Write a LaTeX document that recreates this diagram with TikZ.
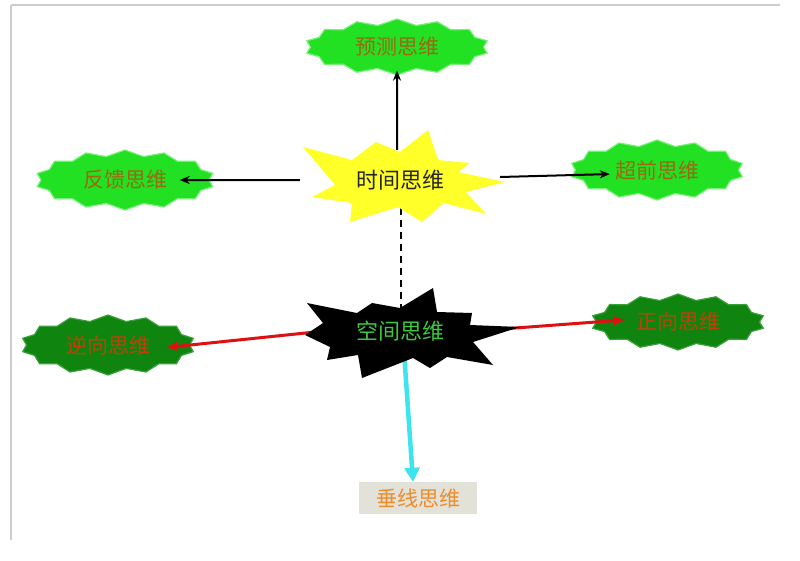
\documentclass[tikz,border=0pt]{standalone}
\usepackage{fontspec}
\setmainfont{Noto Sans CJK SC}
\usetikzlibrary{shapes.symbols,arrows.meta,calc}
\pgfdeclarelayer{bg}
\pgfdeclarelayer{arr}
\pgfsetlayers{bg,arr,main}
\definecolor{lg}{HTML}{22E022}
\definecolor{lgb}{HTML}{77F077}
\definecolor{dg}{HTML}{0F850F}
\definecolor{dgb}{HTML}{3AA03A}
\definecolor{txtbrown}{HTML}{9A6A12}
\definecolor{txtred}{HTML}{C0400A}
\definecolor{yel}{HTML}{FFFF2A}
\definecolor{spgreen}{HTML}{3CC83C}
\definecolor{cyanline}{HTML}{3DE3EE}
\definecolor{boxgray}{HTML}{E2E2D8}
\definecolor{boxtxt}{HTML}{EE8C2C}
\definecolor{framegray}{HTML}{CCCCCC}
\definecolor{redline}{HTML}{DD1111}
\tikzset{
  burst/.style={starburst, starburst points=14, starburst point height=6pt,
    random starburst=0, line width=1.2pt, inner sep=0pt,
    font=\fontsize{21}{24}\selectfont},
  gburst/.style={burst, fill=lg, draw=lgb, text=txtbrown},
  dburst/.style={burst, fill=dg, draw=dgb, text=txtred},
  boxs/.style={rectangle, fill=boxgray, text=boxtxt, minimum width=118pt,
    minimum height=32pt, inner sep=0pt, font=\fontsize{21}{24}\selectfont},
  ctxt/.style={inner sep=0pt, font=\fontsize{22}{26}\selectfont},
  blk/.style={draw=black, line width=2pt, -{Stealth[length=10pt,width=8pt]}},
  rd/.style={draw=redline, line width=3pt, -{Latex[length=12pt,width=10pt]}},
  cy/.style={draw=cyanline, line width=4.5pt, -{Triangle[length=14pt,width=15pt]}},
  framel/.style={draw=framegray, line width=1.5pt}
}
\begin{document}
\begin{tikzpicture}[x=1pt,y=-1pt]
\useasboundingbox (0,0) rectangle (800,560);
\begin{pgfonlayer}{bg}
  \draw[framel] (11,5) -- (780,5);
  \draw[framel] (11,5) -- (11,540);
  \node[gburst, minimum width=185pt, minimum height=56pt] (yc) at (397,47) {预测思维};
  \node[gburst, minimum width=180pt, minimum height=60pt] (fk) at (125,180) {反馈思维};
  \node[gburst, minimum width=175pt, minimum height=60pt] (cq) at (657,170) {超前思维};
  \node[dburst, minimum width=175pt, minimum height=60pt] (nx) at (108,345) {逆向思维};
  \node[dburst, minimum width=175pt, minimum height=56pt] (zx) at (678,322) {正向思维};
  \node[boxs] (cx) at (418,498) {垂线思维};
\end{pgfonlayer}
% explosion shapes
\fill[yel] (303,147) -- (352,160) -- (376,142) -- (400,152) -- (428,130) -- (438,160)
  -- (470,163) -- (458,172) -- (505,182) -- (466,192) -- (486,214) -- (444,203)
  -- (422,222) -- (398,207) -- (350,222) -- (352,203) -- (312,197) -- (335,185) -- cycle;
\fill[black] (307,303) -- (357,313) -- (372,303) -- (400,308) -- (433,288) -- (437,312)
  -- (472,313) -- (470,325) -- (520,327) -- (473,342) -- (493,365) -- (447,357)
  -- (430,368) -- (413,358) -- (362,378) -- (358,355) -- (327,360) -- (330,347)
  -- (305,335) -- (323,323) -- cycle;
\node[ctxt, text=black!85, minimum width=200pt, minimum height=60pt] (sj) at (400,180) {时间思维};
\node[ctxt, text=spgreen, minimum width=150pt, minimum height=40pt] (kj) at (400,331) {空间思维};
\begin{pgfonlayer}{arr}
  \draw[blk, shorten >=-5pt] ([xshift=-3pt]sj.north) -- (yc.south);
  \draw[blk, shorten >=-30pt] (sj.west) -- (fk.east);
  \draw[blk, shorten >=-35pt] ([yshift=3pt]sj.east) -- ([yshift=-5pt]cq.west);
  \draw[blk, dashed, dash pattern=on 7pt off 5pt, shorten >=-13pt] ([xshift=1pt]kj.north) -- ([xshift=1pt]sj.south);
  \draw[rd, shorten >=-25pt] (kj.west) -- (nx.east);
  \draw[rd, shorten >=-30pt] (kj.east) -- (zx.west);
  \draw[cy] ([xshift=4pt]kj.south) -- ([xshift=-5pt]cx.north);
\end{pgfonlayer}
\end{tikzpicture}
\end{document}
